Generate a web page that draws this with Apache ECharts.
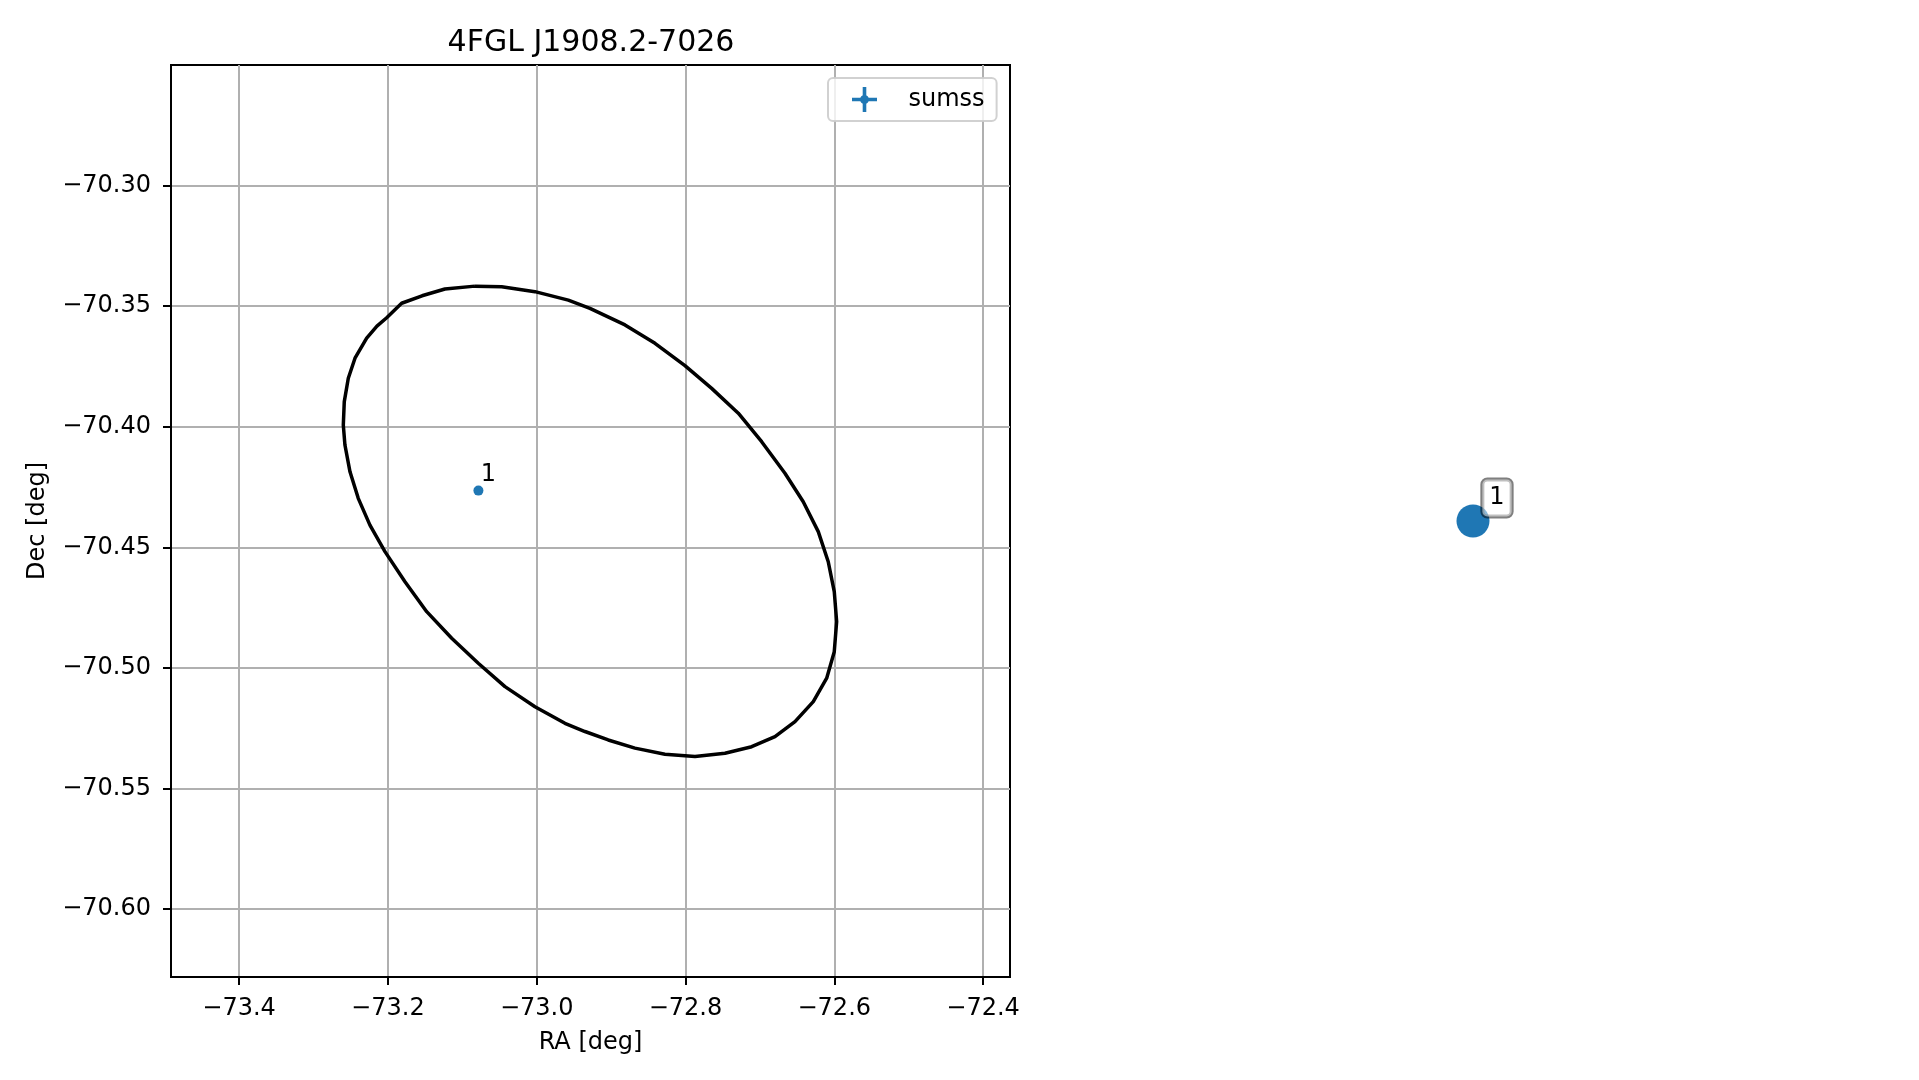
<!DOCTYPE html>
<html><head><meta charset="utf-8">
<script src="https://cdn.jsdelivr.net/npm/echarts@6/dist/echarts.min.js"></script>
<style>html,body{margin:0;padding:0;background:#fff}#c{width:1919px;height:1080px}</style>
</head><body><div id="c"></div>
<script>
const titleText = '4FGL J1908.2-7026';
const xName = 'RA [deg]';
const yName = 'Dec [deg]';
const xTicks = [-73.4, -73.2, -73.0, -72.8, -72.6, -72.4];
const yTicks = [-70.30, -70.35, -70.40, -70.45, -70.50, -70.55, -70.60];
const xRange = [-73.4915, -72.3638];
const yRange = [-70.6282, -70.2500];
const seriesName = 'sumss';
const sourceLabels = ['1'];
const sourceRA = [-73.0783];
const sourceDec = [-70.4265];
const ellipseRA = [-73.0829,-73.0470,-73.0023,-72.9575,-72.9284,-72.8813,-72.8410,-72.8007,-72.7648,-72.7290,
  -72.6976,-72.6663,-72.6417,-72.6215,-72.6081,-72.6000,-72.5968,-72.6000,-72.6102,-72.6282,
  -72.6528,-72.6797,-72.7110,-72.7469,-72.7872,-72.8276,-72.8679,-72.9038,-72.9351,-72.9620,
  -73.0023,-73.0426,-73.0785,-73.1142,-73.1478,-73.1770,-73.2039,-73.2241,-73.2398,-73.2509,
  -73.2577,-73.2599,-73.2586,-73.2532,-73.2442,-73.2285,-73.2147,-73.2016,-73.1815,-73.1541,-73.1233,-73.0829];
const ellipseDec = [-70.3417,-70.3420,-70.3440,-70.3475,-70.3509,-70.3578,-70.3654,-70.3747,-70.3841,-70.3944,
  -70.4062,-70.4193,-70.4311,-70.4435,-70.4560,-70.4684,-70.4808,-70.4933,-70.5043,-70.5140,
  -70.5223,-70.5285,-70.5327,-70.5354,-70.5368,-70.5358,-70.5333,-70.5299,-70.5264,-70.5230,
  -70.5161,-70.5078,-70.4981,-70.4877,-70.4767,-70.4643,-70.4518,-70.4408,-70.4297,-70.4187,
  -70.4076,-70.3993,-70.3896,-70.3799,-70.3716,-70.3633,-70.3583,-70.3548,-70.3488,-70.3457,-70.3429,-70.3417];

const FONT = 'DejaVu Sans';
const BLUE = '#1f77b4';
const minus = s => s.replace('-', '\u2212');
const fmtX = v => minus(Number(v).toFixed(1));
const fmtY = v => minus(Number(v).toFixed(2));

const ellipseData = ellipseRA.map((r, i) => [r, ellipseDec[i]]);
const srcData = sourceRA.map((r, i) => ({value: [r, sourceDec[i]], name: sourceLabels[i]}));

const plusIcon = 'path://M10.7,0H14.3V10.7H25V14.3H14.3V25H10.7V14.3H0V10.7H10.7Z M8,12.5a4.5,4.5 0 1,1 9,0a4.5,4.5 0 1,1 -9,0Z';

const chart = echarts.init(document.getElementById('c'), null, {renderer: 'canvas'});
chart.setOption({
  animation: false,
  backgroundColor: '#fff',
  title: {
    text: titleText, left: 591, top: 28, textAlign: 'center', padding: 0,
    textStyle: {fontFamily: FONT, fontSize: 30, fontWeight: 'normal', color: '#000'}
  },
  legend: {
    data: [seriesName], left: 828, top: 78, orient: 'vertical',
    itemWidth: 48, itemHeight: 25, icon: plusIcon,
    padding: [9, 12, 9, 24],
    backgroundColor: 'rgba(255,255,255,0.8)', borderColor: 'rgba(204,204,204,0.9)', borderWidth: 2, borderRadius: 5,
    itemStyle: {color: BLUE, opacity: 1},
    textStyle: {fontFamily: FONT, fontSize: 24, color: '#000', padding: [0, 0, 0, 15]}
  },
  grid: [
    {left: 171, top: 65, width: 839, height: 912, show: true, borderColor: '#000', borderWidth: 2, outerBoundsMode: 'none', containLabel: false},
    {left: 1373, top: 421, width: 200, height: 200, show: false, outerBoundsMode: 'none', containLabel: false}
  ],
  xAxis: [
    {type: 'value', gridIndex: 0, min: xRange[0], max: xRange[1], name: xName, nameLocation: 'middle', nameGap: 54,
      nameTextStyle: {fontFamily: FONT, fontSize: 24, color: '#000'},
      axisLine: {show: true, onZero: false, lineStyle: {color: '#000', width: 2}},
      axisTick: {show: true, length: 8, inside: false, customValues: xTicks, lineStyle: {color: '#000', width: 2}},
      axisLabel: {show: true, margin: 20, customValues: xTicks, formatter: fmtX, fontFamily: FONT, fontSize: 24, color: '#000'},
      splitLine: {show: true, lineStyle: {color: '#b0b0b0', width: 2}}},
    {type: 'value', gridIndex: 1, min: sourceRA[0] - 0.1, max: sourceRA[0] + 0.1, show: false}
  ],
  yAxis: [
    {type: 'value', gridIndex: 0, min: yRange[0], max: yRange[1], name: yName, nameLocation: 'middle', nameGap: 121,
      nameTextStyle: {fontFamily: FONT, fontSize: 24, color: '#000'},
      axisLine: {show: true, onZero: false, lineStyle: {color: '#000', width: 2}},
      axisTick: {show: true, length: 8, inside: false, customValues: yTicks, lineStyle: {color: '#000', width: 2}},
      axisLabel: {show: true, margin: 20, customValues: yTicks, formatter: fmtY, fontFamily: FONT, fontSize: 24, color: '#000'},
      splitLine: {show: true, lineStyle: {color: '#b0b0b0', width: 2}}},
    {type: 'value', gridIndex: 1, min: sourceDec[0] - 0.1, max: sourceDec[0] + 0.1, show: false}
  ],
  series: [
    {type: 'line', name: 'ellipse', xAxisIndex: 0, yAxisIndex: 0, data: ellipseData, showSymbol: false, symbol: 'none',
      smooth: false, lineStyle: {color: '#000', width: 3.5}, z: 3, silent: true},
    {type: 'scatter', name: seriesName, xAxisIndex: 0, yAxisIndex: 0, data: srcData, symbol: 'circle', symbolSize: 10,
      itemStyle: {color: BLUE, opacity: 1}, z: 4,
      label: {show: true, formatter: p => p.name, position: 'inside', offset: [10, -16], fontFamily: FONT, fontSize: 24, color: '#000'}},
    {type: 'scatter', name: 'map', xAxisIndex: 1, yAxisIndex: 1, data: srcData, symbol: 'circle', symbolSize: 33,
      itemStyle: {color: BLUE, opacity: 1}, z: 4,
      label: {show: true, formatter: p => p.name, position: 'inside', offset: [24, -23], fontFamily: FONT, fontSize: 24, color: '#000',
        lineHeight: 24, padding: [6, 7, 7, 7], backgroundColor: 'rgba(255,255,255,0.5)', borderColor: 'rgba(0,0,0,0.5)', borderWidth: 2, borderRadius: 5}}
  ]
});
</script></body></html>
